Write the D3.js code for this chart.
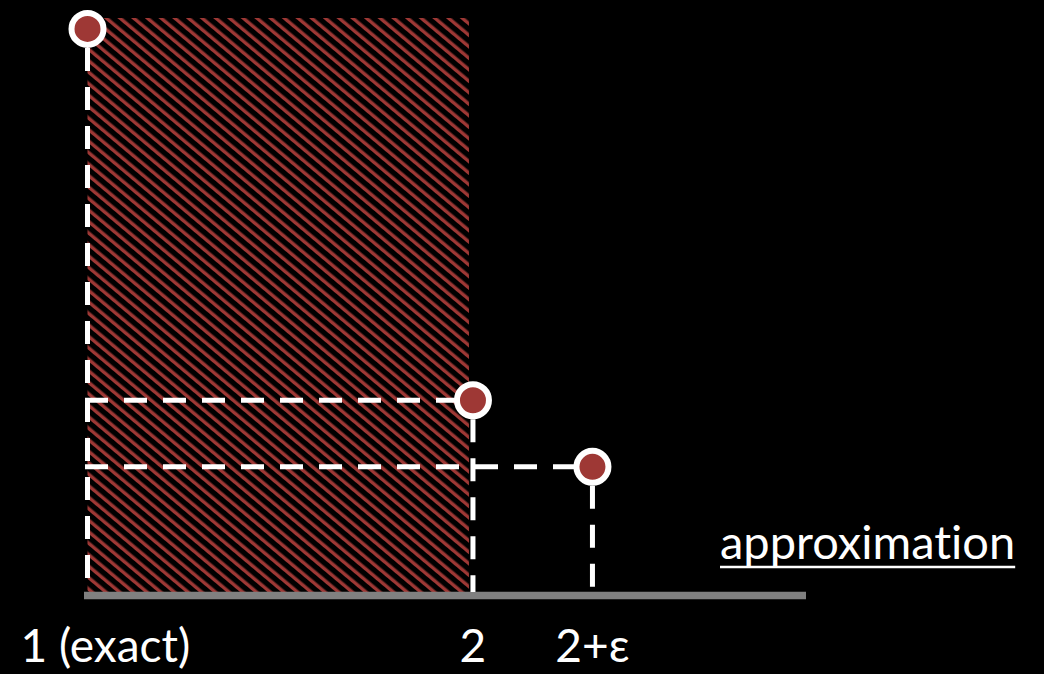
<!DOCTYPE html>
<html>
<head>
<meta charset="utf-8">
<script src="https://cdn.jsdelivr.net/npm/d3@7"></script>
<style>
  html, body { margin: 0; padding: 0; background: #000; }
  svg { display: block; }
  text { font-family: Lato, "Open Sans", sans-serif; fill: #fff; font-variant-ligatures: none; }
</style>
</head>
<body>
<svg id="chart" width="1044" height="674"></svg>
<script>
// Approximation factor (x) vs. relative cost (y)
const factors = [1, 2, 2.31];
const costs = [0.981, 0.334, 0.218];
const tickLabels = ["1 (exact)", "2", "2+ε"];
const axisTitle = "approximation";
// Shaded region: factors below 2 up to the full cost height
const shadedFrom = 1;
const shadedTo = 2;
const shadedTop = 1;
const axisMax = 2.864;

const svg = d3.select("#chart");
const W = 1044, H = 674;

svg.append("rect").attr("width", W).attr("height", H).attr("fill", "#000");

const x = d3.scaleLinear().domain([1, axisMax]).range([87.5, 806]);
const y = d3.scaleLinear().domain([0, 1]).range([592, 18]);

const red = "#9e3835";

// Diagonal hatching pattern
const step = 8.8;
const defs = svg.append("defs");
const pat = defs.append("pattern")
  .attr("id", "hatch")
  .attr("patternUnits", "userSpaceOnUse")
  .attr("width", step)
  .attr("height", step)
  .attr("patternTransform", "rotate(-50)");
pat.append("rect").attr("width", step).attr("height", step).attr("fill", "#000");
pat.append("rect").attr("x", 0).attr("y", 0).attr("width", 3.4).attr("height", step).attr("fill", red);

svg.append("rect")
  .attr("x", x(shadedFrom))
  .attr("y", y(shadedTop))
  .attr("width", x(shadedTo) - x(shadedFrom) - 4)
  .attr("height", y(0) - y(shadedTop))
  .attr("fill", "url(#hatch)");

// Axis line
svg.append("line")
  .attr("x1", x(1) - 3.5).attr("x2", x(axisMax))
  .attr("y1", y(0) + 3.5).attr("y2", y(0) + 3.5)
  .attr("stroke", "#808080")
  .attr("stroke-width", 7.5);

const pts = factors.map((f, i) => ({ f, c: costs[i] }));

const dash = "23,16";
const guides = svg.append("g")
  .attr("stroke", "#fff")
  .attr("stroke-width", 5)
  .attr("stroke-dasharray", dash)
  .attr("fill", "none");

// Vertical drop lines to the axis
guides.selectAll("line.v")
  .data(pts)
  .join("line")
  .attr("class", "v")
  .attr("x1", d => x(d.f)).attr("x2", d => x(d.f))
  .attr("y1", d => y(d.c) + 19).attr("y2", y(0));

// Horizontal lines back to the exact-solution column
guides.selectAll("line.h")
  .data(pts.filter(d => d.f > 1))
  .join("line")
  .attr("class", "h")
  .attr("x1", x(1) - 2.5).attr("x2", d => x(d.f))
  .attr("y1", d => y(d.c)).attr("y2", d => y(d.c));

// Points
svg.append("g")
  .selectAll("circle")
  .data(pts)
  .join("circle")
  .attr("cx", d => x(d.f))
  .attr("cy", d => y(d.c))
  .attr("r", 16)
  .attr("fill", red)
  .attr("stroke", "#fff")
  .attr("stroke-width", 6);

// Tick labels
svg.append("g")
  .selectAll("text")
  .data(factors)
  .join("text")
  .attr("x", (d, i) => i === 0 ? x(d) - 67 : x(d))
  .attr("y", 662)
  .attr("text-anchor", (d, i) => i === 0 ? "start" : "middle")
  .attr("font-size", 46)
  .text((d, i) => tickLabels[i]);

// Axis title, underlined
const title = svg.append("text")
  .attr("x", 720)
  .attr("y", 559)
  .attr("font-size", 47)
  .text(axisTitle);
const tw = title.node().getComputedTextLength();
svg.append("line")
  .attr("x1", 720).attr("x2", 720 + tw)
  .attr("y1", 567).attr("y2", 567)
  .attr("stroke", "#fff").attr("stroke-width", 2.5);
</script>
</body>
</html>
